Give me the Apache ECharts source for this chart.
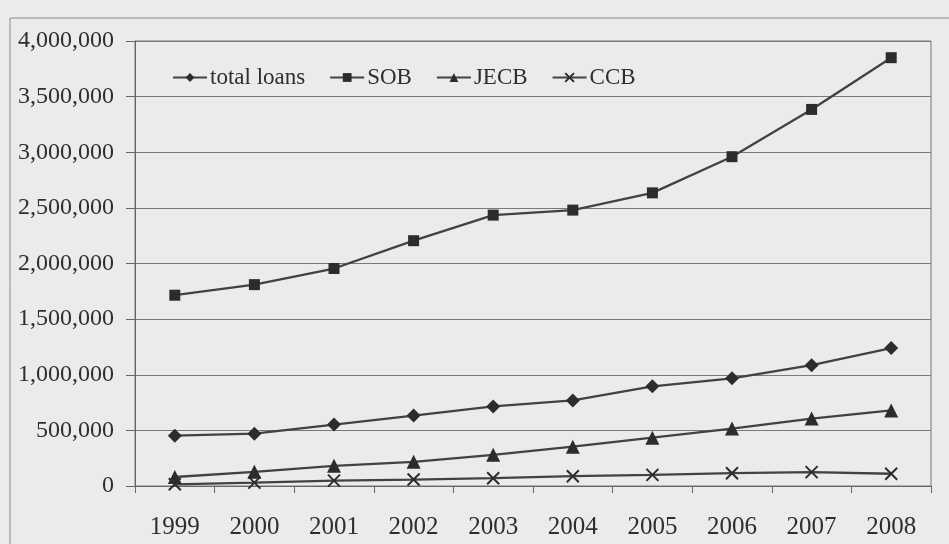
<!DOCTYPE html>
<html>
<head>
<meta charset="utf-8">
<script src="https://cdn.jsdelivr.net/npm/echarts@6/dist/echarts.min.js"></script>
<style>
  html, body { margin: 0; padding: 0; background: #ebebea; }
  #chart { width: 949px; height: 544px; }
</style>
</head>
<body>
<div id="chart"></div>
<script>
// Loan volumes by year
const years = ['1999', '2000', '2001', '2002', '2003', '2004', '2005', '2006', '2007', '2008'];
const totalLoans = [452000, 470000, 552000, 633000, 715000, 769000, 896000, 968000, 1086000, 1240000];
const sob = [1715000, 1810000, 1955000, 2205000, 2435000, 2480000, 2635000, 2960000, 3385000, 3850000];
const jecb = [81000, 127000, 181000, 217000, 280000, 353000, 434000, 516000, 606000, 679000];
const ccb = [15000, 30000, 48000, 58000, 70000, 88000, 100000, 115000, 125000, 110000];

const ink = '#2c2c2c';
const lineInk = '#424242';
const crossPath = 'path://M0,0L10,10M10,0L0,10';

function makeSeries(name, data, symbol, size, extra) {
  return Object.assign({
    name: name,
    type: 'line',
    data: data,
    symbol: symbol,
    symbolSize: size,
    showAllSymbol: true,
    lineStyle: { color: lineInk, width: 2.3 },
    itemStyle: { color: ink },
    emphasis: { disabled: true },
    z: 3
  }, extra || {});
}

const chart = echarts.init(document.getElementById('chart'));
chart.setOption({
  animation: false,
  backgroundColor: '#ebebea',
  textStyle: { fontFamily: 'Liberation Serif' },
  graphic: [{
    type: 'rect',
    shape: { x: 10, y: 18, width: 1000, height: 600 },
    style: { fill: 'none', stroke: '#8a8a8a', lineWidth: 1 },
    silent: true
  }],
  legend: {
    left: 167,
    top: 61,
    itemWidth: 34,
    itemHeight: 11,
    itemGap: 24,
    textStyle: { fontFamily: 'Liberation Serif', fontSize: 23, color: '#2e2e2e', padding: [0, 0, 0, -2] },
    data: ['total loans', 'SOB', 'JECB', 'CCB']
  },
  grid: { left: 135, right: 18, top: 41, bottom: 58, show: true, borderColor: '#777', borderWidth: 1, backgroundColor: 'transparent' },
  xAxis: {
    type: 'category',
    data: years,
    boundaryGap: true,
    axisLine: { lineStyle: { color: '#666', width: 1 } },
    axisTick: { show: true, length: 7, lineStyle: { color: '#666' } },
    axisLabel: { color: '#2e2e2e', fontSize: 25, margin: 29, fontFamily: 'Liberation Serif' },
    splitLine: { show: false }
  },
  yAxis: {
    type: 'value',
    min: 0,
    max: 4000000,
    interval: 500000,
    axisLine: { show: true, lineStyle: { color: '#666', width: 1 } },
    axisTick: { show: true, length: 9, lineStyle: { color: '#666' } },
    axisLabel: {
      color: '#2e2e2e', fontSize: 24, margin: 21, fontFamily: 'Liberation Serif',
      formatter: v => v.toLocaleString('en-US')
    },
    splitLine: { show: true, lineStyle: { color: '#7a7a7a', width: 1 } }
  },
  series: [
    makeSeries('total loans', totalLoans, 'diamond', 14),
    makeSeries('SOB', sob, 'rect', 11),
    makeSeries('JECB', jecb, 'triangle', 14),
    makeSeries('CCB', ccb, crossPath, 12, {
      itemStyle: { color: 'none', borderColor: ink, borderWidth: 2 }
    })
  ]
});
</script>
</body>
</html>
